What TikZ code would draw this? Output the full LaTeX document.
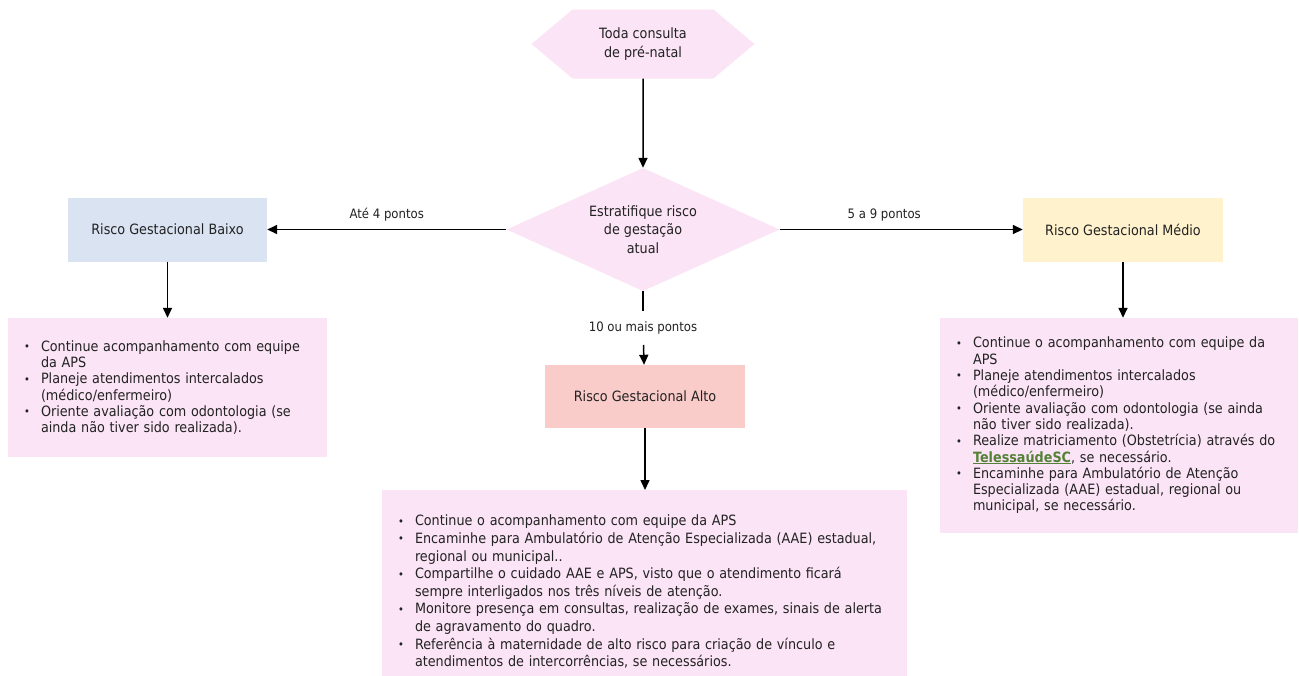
\documentclass[tikz,border=0pt]{standalone}
\usepackage{fontspec}
\setmainfont{DejaVu Sans}[FakeStretch=0.9]
\usepackage{tikz}
\usetikzlibrary{shapes.geometric,shapes.symbols,arrows.meta}

\definecolor{rosa}{RGB}{251,228,246}
\definecolor{azul}{RGB}{218,227,242}
\definecolor{amarelo}{RGB}{255,242,204}
\definecolor{salmao}{RGB}{249,203,201}
\definecolor{texto}{RGB}{34,34,34}
\definecolor{verde}{RGB}{83,129,53}

\newcommand{\topico}[1]{\makebox[17pt][l]{\raisebox{0.6pt}{\fontsize{11}{11}\selectfont\textbullet}}\mbox{#1}}
\newcommand{\contin}[1]{\hspace*{17pt}\mbox{#1}}

\begin{document}
\begin{tikzpicture}[x=1pt, y=-1pt, text=texto, font=\fontsize{14.2}{18.5}\selectfont,
    seta/.style={-{Triangle[length=10pt,width=9pt]}, line width=1.5pt},
    caixa/.style={rectangle, minimum width=199pt, minimum height=64pt},
    lista/.style={rectangle, fill=rosa, inner xsep=16pt, align=left, font=\fontsize{14.2}{16.3}\selectfont},
    rotulo/.style={font=\fontsize{13}{15}\selectfont, inner sep=2pt}]

      \clip (0,0) rectangle (1299,675);
      \fill[white] (0,0) rectangle (1299,675);

      \node (inicio) at (643,44) [signal, signal to=east and west, signal pointer angle=80,
        fill=rosa, minimum width=223pt, minimum height=69pt, align=center] {Toda consulta\\de pré-natal};
      \node (estrat) at (643,229.5) [diamond, aspect=2.2, fill=rosa, inner sep=1pt,
        minimum width=273pt, minimum height=123pt, align=center] {Estratifique risco\\de gestação\\atual};

      \node (baixo) at (167.5,229.5) [caixa, fill=azul] {Risco Gestacional Baixo};
      \node (medio) at (1123,229.5) [caixa, fill=amarelo, minimum width=200pt] {Risco Gestacional Médio};
      \node (dez) at (643,328) [rotulo, inner ysep=10.5pt] {10 ou mais pontos};
      \node (alto) at (645,396.5) [caixa, fill=salmao, minimum width=200pt, minimum height=63pt] {Risco Gestacional Alto};

      \node (listabaixo) at (167.5,387.5) [lista, text width=287pt, minimum height=139pt] {%
        \topico{Continue acompanhamento com equipe}\\
        \contin{da APS}\\
        \topico{Planeje atendimentos intercalados}\\
        \contin{(médico/enfermeiro)}\\
        \topico{Oriente avaliação com odontologia (se}\\
        \contin{ainda não tiver sido realizada).}};

      \node (listamedio) at (1119,425.5) [lista, text width=326pt, minimum height=215pt] {%
        \topico{Continue o acompanhamento com equipe da}\\
        \contin{APS}\\
        \topico{Planeje atendimentos intercalados}\\
        \contin{(médico/enfermeiro)}\\
        \topico{Oriente avaliação com odontologia (se ainda}\\
        \contin{não tiver sido realizada).}\\
        \topico{Realize matriciamento (Obstetrícia) através do}\\
        \contin{\textcolor{verde}{\underline{\textbf{TelessaúdeSC}}}, se necessário.}\\
        \topico{Encaminhe para Ambulatório de Atenção}\\
        \contin{Especializada (AAE) estadual, regional ou}\\
        \contin{municipal, se necessário.}};

      \node (listaalto) at (644.5,490) [lista, anchor=north, text width=493pt, inner ysep=25pt,
        font=\fontsize{14.2}{17.6}\selectfont] {%
        \topico{Continue o acompanhamento com equipe da APS}\\
        \topico{Encaminhe para Ambulatório de Atenção Especializada (AAE) estadual,}\\
        \contin{regional ou municipal..}\\
        \topico{Compartilhe o cuidado AAE e APS, visto que o atendimento ficará}\\
        \contin{sempre interligados nos três níveis de atenção.}\\
        \topico{Monitore presença em consultas, realização de exames, sinais de alerta}\\
        \contin{de agravamento do quadro.}\\
        \topico{Referência à maternidade de alto risco para criação de vínculo e}\\
        \contin{atendimentos de intercorrências, se necessários.}};

      \draw[seta] (inicio) -- (estrat);
      \draw[seta] (estrat) -- (baixo) node (ate4) [rotulo, above=6pt, pos=0.5] {Até 4 pontos};
      \draw[seta] (estrat) -- (medio) node (cinco9) [rotulo, above=6pt, pos=0.43] {5 a 9 pontos};
      \draw[line width=1.5pt] (estrat) -- (dez);
      \draw[seta] (dez) -- (alto);

      \draw[seta] (baixo) -- (listabaixo);
      \draw[seta] (medio) -- (medio |- listamedio.north);
      \draw[seta] (alto) -- (alto |- listaalto.north);
\end{tikzpicture}
\end{document}
